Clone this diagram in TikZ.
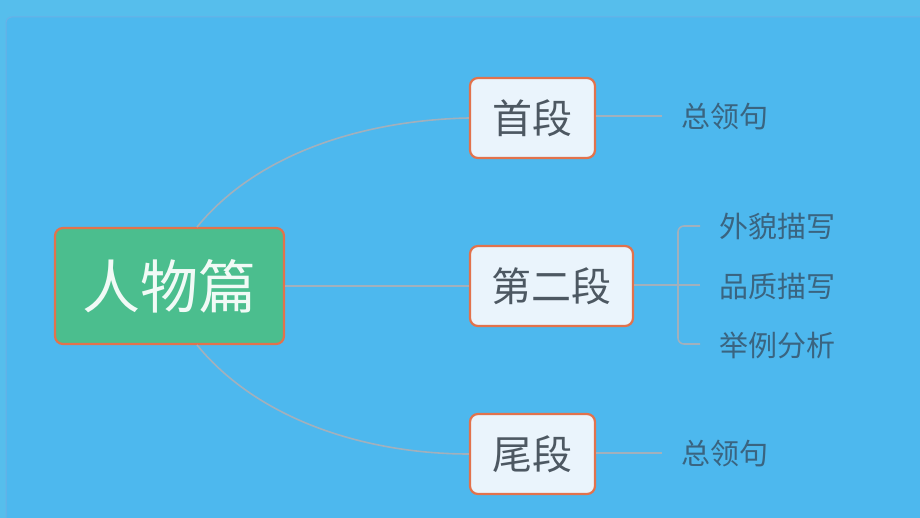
\documentclass[tikz,border=0pt]{standalone}
\usepackage{fontspec}
\newfontfamily\cjk{Noto Sans CJK SC}
\definecolor{bgouter}{HTML}{56BEEC}
\definecolor{bginner}{HTML}{4DB8EE}
\definecolor{bgline}{HTML}{6BB0E6}
\definecolor{rootfill}{HTML}{4BBE8E}
\definecolor{boxfill}{HTML}{EAF4FC}
\definecolor{boxline}{HTML}{E2724C}
\definecolor{boxtext}{HTML}{4D5862}
\definecolor{leaftext}{HTML}{3A6480}
\definecolor{linkgray}{HTML}{A2B0BC}
\tikzset{
  rootbox/.style={draw=boxline,line width=2.2pt,fill=rootfill,rounded corners=8pt,
    minimum width=229pt,minimum height=116pt,text=white!92!rootfill,
    font=\cjk\fontsize{58}{64}\selectfont},
  partbox/.style={draw=boxline,line width=2.2pt,fill=boxfill,rounded corners=8pt,
    minimum height=80pt,text=boxtext,font=\cjk\fontsize{40}{46}\selectfont},
  leaf/.style={anchor=west,inner sep=0pt,text=leaftext,font=\cjk\fontsize{29}{34}\selectfont},
  link/.style={draw=linkgray,line width=1.6pt}
}
\begin{document}
\begin{tikzpicture}[x=1pt,y=-1pt]

% background
\useasboundingbox (0,0) rectangle (920,518);
\fill[bgouter] (0,0) rectangle (920,518);
\begin{scope}
\clip (0,0) rectangle (920,518);
\filldraw[fill=bginner,draw=bgline,line width=1pt,rounded corners=6pt] (6,17) rectangle (940,540);
\end{scope}

\node[rootbox](root) at (169.5,286) {人物篇};

\node[partbox,minimum width=125pt](first) at (532.5,118) {首段};
\node[partbox,minimum width=163pt](second) at (551.5,286) {第二段};
\node[partbox,minimum width=125pt](last) at (532.5,454) {尾段};

\node[leaf](lead first) at (681,117) {总领句};
\node[leaf](looks) at (719,226) {外貌描写};
\node[leaf](quality) at (719,286) {品质描写};
\node[leaf](example) at (719,345) {举例分析};
\node[leaf](lead last) at (681,454) {总领句};

\coordinate (root top) at (197,227);
\coordinate (root bottom) at (197,345);
\coordinate (lead first end) at (662,116);
\coordinate (lead last end) at (662,453);
\coordinate (fork) at (678,285);
\coordinate (looks end) at (700,226);
\coordinate (quality end) at (700,285);
\coordinate (example end) at (700,344);

\draw[link] (root top) .. controls (260,150) and (370,120) .. (first.west);
\draw[link] (root) to (second);
\draw[link] (root bottom) .. controls (260,422) and (370,454) .. (last.west);

\draw[link] (first.east |- lead first end) to (lead first end);
\draw[link] (last.east |- lead last end) to (lead last end);

\draw[link] (second.east |- fork) to (quality end);
\draw[link,rounded corners=6pt] (looks end) -| (fork) |- (example end);

\end{tikzpicture}
\end{document}
